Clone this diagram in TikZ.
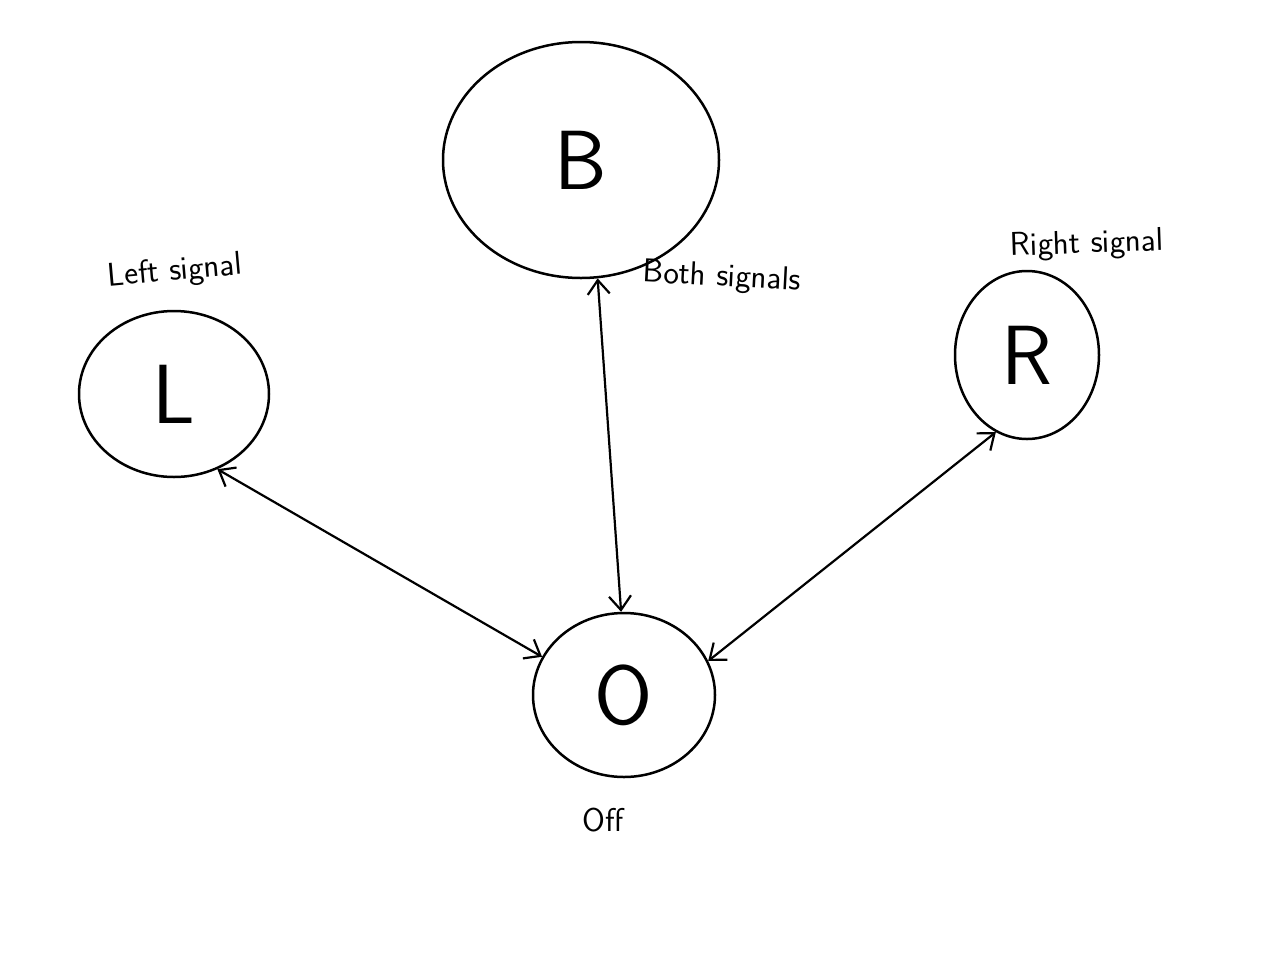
\documentclass[tikz,border=0pt]{standalone}
\usepackage{fontspec}
\setmainfont{DejaVu Sans}
\usetikzlibrary{shapes.geometric,arrows.meta}
\begin{document}
\begin{tikzpicture}[x=1pt,y=-1pt,
  statenode/.style={ellipse,draw,line width=2.5pt,inner sep=0pt},
  statelabel/.style={font=\fontsize{84}{84}\selectfont\sffamily},
  tag/.style={font=\fontsize{33}{33}\selectfont\sffamily},
  link/.style={line width=2.2pt,{Straight Barb[length=14pt,width=22pt]}-{Straight Barb[length=14pt,width=22pt]}}]
\useasboundingbox (0,0) rectangle (1275,954);
\node[statenode,minimum width=276pt,minimum height=236pt] (B) at (581,160) {};
\node[statelabel] at (B) {B};
\node[statenode,minimum width=190pt,minimum height=166pt] (L) at (174,394) {};
\node[statelabel] at (L) {L};
\node[statenode,minimum width=144pt,minimum height=168pt] (R) at (1027,355) {};
\node[statelabel] at (R) {R};
\node[statenode,minimum width=182pt,minimum height=164pt] (O) at (624,695) {};
\node[statelabel] at (O) {O};
\node[tag,rotate=5] (tl) at (175,272) {Left signal};
\node[tag,rotate=-3] (tb) at (722,278) {Both signals};
\node[tag,rotate=2] (tr) at (1087,245) {Right signal};
\node[tag] (to) at (603,820) {Off};
\draw[link] (L.-60) -- (O.155);
\draw[link] (B.-82) -- (O.92);
\draw[link] (R.-112) -- (O.22);
\end{tikzpicture}
\end{document}
